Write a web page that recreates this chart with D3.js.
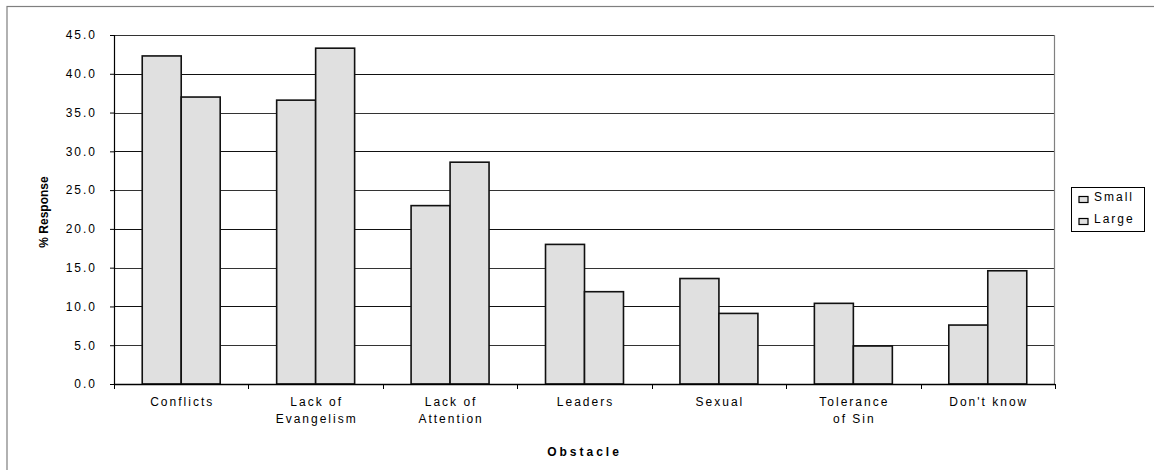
<!DOCTYPE html>
<html>
<head>
<meta charset="utf-8">
<script src="https://d3js.org/d3.v7.min.js"></script>
<style>
    body { margin: 0; background: white; }
    text { font-family: "Liberation Sans", Arial, sans-serif; fill: black; }
</style>
</head>
<body>
<script>
    // chart data
    const categories = ['Conflicts', 'Lack of\nEvangelism', 'Lack of\nAttention', 'Leaders', 'Sexual', 'Tolerance\nof Sin', "Don't know"];
    const seriesNames = ['Small', 'Large'];
    const smallValues = [42.3, 36.6, 23.0, 18.0, 13.6, 10.4, 7.6];
    const largeValues = [37.0, 43.3, 28.6, 11.9, 9.1, 4.9, 14.6];
    const yTicks = [0, 5, 10, 15, 20, 25, 30, 35, 40, 45];

    const width = 1154, height = 470;
    const plot = { left: 114, right: 1055, top: 35, bottom: 384 };

    const svg = d3.select('body').append('svg')
        .attr('width', width)
        .attr('height', height);

    // outer chart frame (clipped at right/bottom like the original)
    svg.append('rect')
        .attr('x', 7).attr('y', 6.5)
        .attr('width', 1160).attr('height', 480)
        .style('fill', 'none')
        .style('stroke', '#7f7f7f')
        .style('stroke-width', 1.2);

    const x0 = d3.scaleBand()
        .domain(categories)
        .range([plot.left, plot.right]);

    const bw = x0.bandwidth();
    const x1 = d3.scaleBand()
        .domain(seriesNames)
        .range([bw * 0.21, bw * 0.79]);

    const y = d3.scaleLinear()
        .domain([0, 45])
        .range([plot.bottom, plot.top]);

    // gridlines
    svg.append('g').selectAll('line')
        .data(yTicks.filter(d => d > 0))
        .enter().append('line')
        .attr('x1', plot.left).attr('x2', plot.right)
        .attr('y1', d => Math.round(y(d)) + 0.5)
        .attr('y2', d => Math.round(y(d)) + 0.5)
        .style('stroke', d => d % 10 === 5 ? '#333' : '#111')
        .style('stroke-width', 1);

    // right border of plot area
    svg.append('line')
        .attr('x1', plot.right - 0.5).attr('x2', plot.right - 0.5)
        .attr('y1', plot.top).attr('y2', plot.bottom)
        .style('stroke', '#808080')
        .style('stroke-width', 1.2);

    // bars
    const data = categories.map((c, i) => ({ cat: c, values: [smallValues[i], largeValues[i]] }));
    const groups = svg.append('g').selectAll('g')
        .data(data)
        .enter().append('g')
        .attr('transform', d => `translate(${x0(d.cat)},0)`);

    groups.selectAll('rect')
        .data(d => d.values.map((v, j) => ({ key: seriesNames[j], value: v })))
        .enter().append('rect')
        .attr('x', d => x1(d.key))
        .attr('y', d => y(d.value))
        .attr('width', x1.bandwidth())
        .attr('height', d => y(0) - y(d.value))
        .style('fill', '#e0e0e0')
        .style('stroke', '#111')
        .style('stroke-width', 1.6);

    // y axis
    const yAxis = svg.append('g')
        .attr('transform', `translate(${plot.left},0)`)
        .call(d3.axisLeft(y).tickValues(yTicks).tickFormat(d3.format('.1f')).tickSize(4).tickPadding(13));
    yAxis.select('.domain').style('stroke', '#000').style('stroke-width', 1.2);
    yAxis.selectAll('.tick line').style('stroke', '#000');
    yAxis.selectAll('text')
        .style('font-size', '12px')
        .style('letter-spacing', '2px')
        .style('font-family', '"Liberation Sans", Arial, sans-serif');

    // x axis baseline and ticks at category boundaries
    svg.append('line')
        .attr('x1', plot.left).attr('x2', plot.right)
        .attr('y1', plot.bottom + 0.5).attr('y2', plot.bottom + 0.5)
        .style('stroke', '#000').style('stroke-width', 1.4);

    const bounds = categories.map(c => x0(c)).concat([plot.right - 0.5]);
    svg.append('g').selectAll('line')
        .data(bounds)
        .enter().append('line')
        .attr('x1', d => Math.round(d) + 0.5).attr('x2', d => Math.round(d) + 0.5)
        .attr('y1', plot.bottom).attr('y2', plot.bottom + 5)
        .style('stroke', '#000');

    // category labels
    const labels = svg.append('g').selectAll('text')
        .data(categories)
        .enter().append('text')
        .attr('x', d => x0(d) + bw / 2)
        .attr('y', 406)
        .attr('text-anchor', 'middle')
        .style('font-size', '12px')
        .style('letter-spacing', '2px');
    labels.each(function(d) {
        const lines = d.split('\n');
        const t = d3.select(this);
        lines.forEach((l, i) => {
            t.append('tspan')
                .attr('x', x0(d) + bw / 2 + 1)
                .attr('dy', i === 0 ? 0 : 17)
                .text(l);
        });
    });

    // axis titles
    svg.append('text')
        .attr('x', (plot.left + plot.right) / 2)
        .attr('y', 456)
        .attr('text-anchor', 'middle')
        .style('font-size', '12px')
        .style('font-weight', 'bold')
        .style('letter-spacing', '3px')
        .text('Obstacle');

    svg.append('text')
        .attr('transform', 'translate(48,212) rotate(-90)')
        .attr('text-anchor', 'middle')
        .style('font-size', '12px')
        .style('font-weight', 'bold')
        .text('% Response');

    // legend
    const legend = svg.append('g').attr('transform', 'translate(1071,187)');
    legend.append('rect')
        .attr('x', 0.5).attr('y', 0.5)
        .attr('width', 73).attr('height', 44)
        .style('fill', 'white')
        .style('stroke', '#000')
        .style('stroke-width', 1);

    const items = legend.selectAll('.item')
        .data(seriesNames)
        .enter().append('g')
        .attr('class', 'item')
        .attr('transform', (d, i) => `translate(0,${i * 22})`);
    items.append('rect')
        .attr('x', 8).attr('y', 9.5)
        .attr('width', 9).attr('height', 6)
        .style('fill', '#e0e0e0')
        .style('stroke', '#000')
        .style('stroke-width', 1.2);
    items.append('text')
        .attr('x', 23).attr('y', 14)
        .style('font-size', '12px')
        .style('letter-spacing', '2px')
        .text(d => d);
</script>
</body>
</html>
